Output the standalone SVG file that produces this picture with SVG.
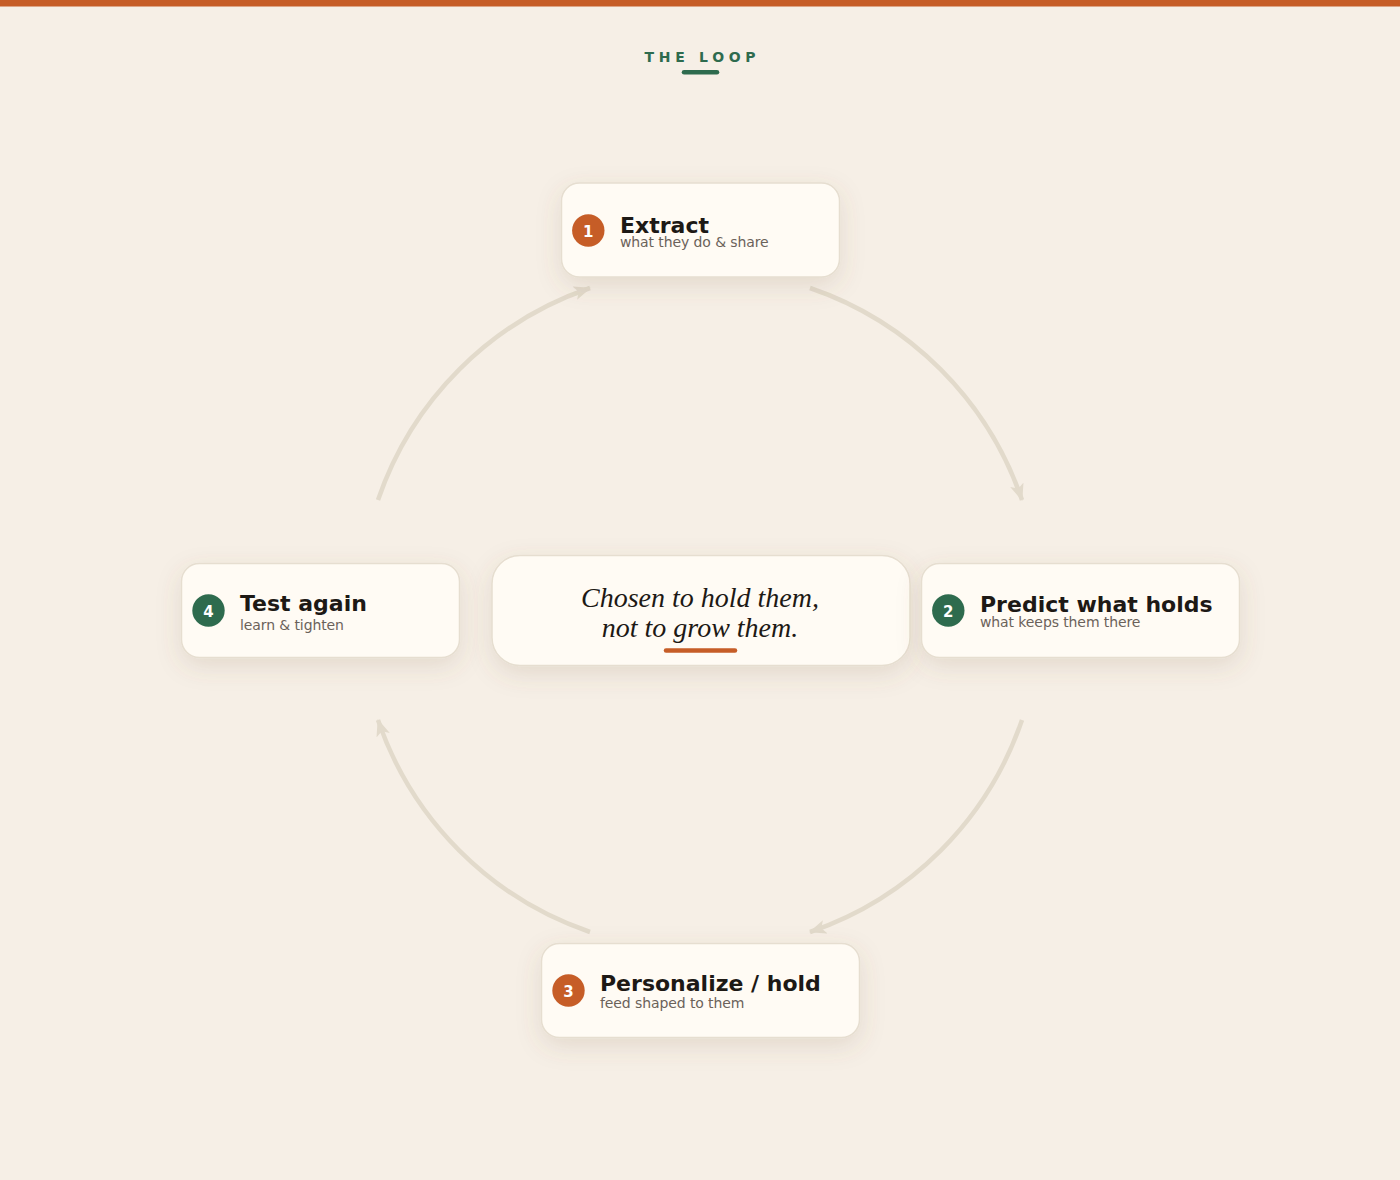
<svg xmlns="http://www.w3.org/2000/svg" width="1400" height="1180" viewBox="0 0 1400 1180">
<defs>
<filter id="sh" x="-20%" y="-35%" width="140%" height="180%">
<feDropShadow dx="0" dy="8" stdDeviation="12" flood-color="#7a5a3a" flood-opacity="0.15"/>
</filter>
<marker id="ah" viewBox="0 0 17 14" refX="16" refY="7" markerWidth="17" markerHeight="14" markerUnits="userSpaceOnUse" orient="auto">
<path d="M0,0 L17,7 L0,14 L4,7 z" fill="#E2DACB"/>
</marker>
</defs>
<style>
.card{fill:#FFFBF4;stroke:#E6DED0;stroke-width:1.5}
.t{font-family:"DejaVu Sans","Liberation Sans",sans-serif;font-weight:bold;font-size:22px;fill:#1D1915}
.s{font-family:"DejaVu Sans","Liberation Sans",sans-serif;font-size:14px;letter-spacing:-0.1px;fill:#6B625A}
.n{font-family:"DejaVu Sans","Liberation Sans",sans-serif;font-weight:bold;font-size:15px;fill:#FFFFFF;text-anchor:middle}
.arc{fill:none;stroke:#E2DACB;stroke-width:4.5;marker-end:url(#ah)}
.q{font-family:"Liberation Serif","DejaVu Serif",serif;font-style:italic;font-size:28px;fill:#1D1915;text-anchor:middle}
</style>
<rect x="0" y="0" width="1400" height="1180" fill="#F6EFE6"/>
<rect x="0" y="0" width="1400" height="6.5" fill="#C65D27"/>
<g id="title">
<text x="702.4" y="62" font-family="DejaVu Sans, sans-serif" font-weight="bold" font-size="14" letter-spacing="4.7" fill="#2E6B4E" text-anchor="middle">THE LOOP</text>
<line x1="684" y1="72.3" x2="717" y2="72.3" stroke="#2E6B4E" stroke-width="4.5" stroke-linecap="round"/>
</g>
<g id="connectors">
<path class="arc" d="M 378 500 A 340 340 0 0 1 590 288"/>
<path class="arc" d="M 810 288 A 340 340 0 0 1 1022 500"/>
<path class="arc" d="M 1022 720 A 340 340 0 0 1 810 932"/>
<path class="arc" d="M 590 932 A 340 340 0 0 1 378 720"/>
</g>
<g id="center">
<rect class="card" x="492" y="555.5" width="418" height="110" rx="28" filter="url(#sh)"/>
<text class="q" x="700" y="606.5">Chosen to hold them,</text>
<text class="q" x="700" y="637.3">not to grow them.</text>
<line x1="666" y1="650.5" x2="735" y2="650.5" stroke="#C65D27" stroke-width="4.5" stroke-linecap="round"/>
</g>
<g id="node1">
<rect class="card" x="561.5" y="183" width="278" height="94" rx="18" filter="url(#sh)"/>
<circle cx="588.3" cy="230.5" r="16.2" fill="#C65D27"/>
<text class="n" x="588.3" y="236.5">1</text>
<text class="t" x="620" y="232.5">Extract</text>
<text class="s" x="620" y="247">what they do &amp; share</text>
</g>
<g id="node2">
<rect class="card" x="921.5" y="563.5" width="318" height="94" rx="18" filter="url(#sh)"/>
<circle cx="948.3" cy="610.5" r="16.2" fill="#2E6B4E"/>
<text class="n" x="948.3" y="616.5">2</text>
<text class="t" x="980" y="611.5">Predict what holds</text>
<text class="s" x="980" y="626.5">what keeps them there</text>
</g>
<g id="node3">
<rect class="card" x="541.5" y="943.5" width="318" height="94" rx="18" filter="url(#sh)"/>
<circle cx="568.5" cy="990.5" r="16.2" fill="#C65D27"/>
<text class="n" x="568.5" y="996.5">3</text>
<text class="t" x="600" y="991">Personalize / hold</text>
<text class="s" x="600" y="1007.5">feed shaped to them</text>
</g>
<g id="node4">
<rect class="card" x="181.5" y="563.5" width="278" height="94" rx="18" filter="url(#sh)"/>
<circle cx="208.5" cy="610.5" r="16.2" fill="#2E6B4E"/>
<text class="n" x="208.5" y="616.5">4</text>
<text class="t" x="240" y="610.5">Test again</text>
<text class="s" x="240" y="630">learn &amp; tighten</text>
</g>
</svg>
